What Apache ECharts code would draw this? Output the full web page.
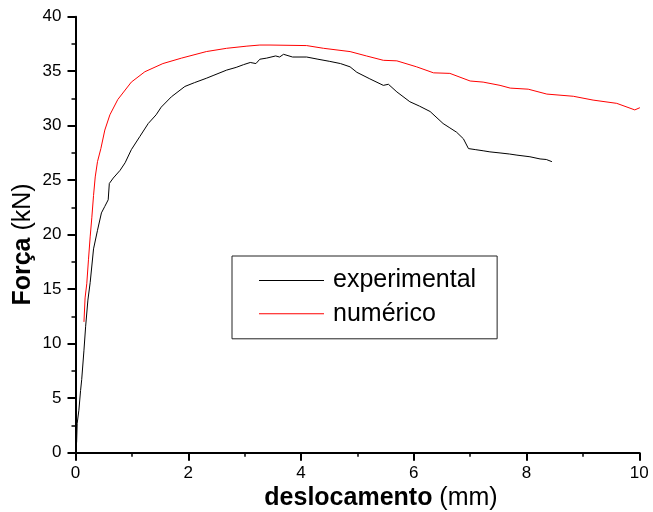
<!DOCTYPE html>
<html>
<head>
<meta charset="utf-8">
<script src="https://cdn.jsdelivr.net/npm/echarts@6/dist/echarts.min.js"></script>
<style>
  html, body { margin: 0; padding: 0; background: #fff; }
  #chart { width: 653px; height: 512px; }
</style>
</head>
<body>
<div id="chart"></div>
<script>
// Force–displacement curves: test measurement vs. numerical model
const seriesNames = ['experimental', 'numérico'];

// experimental curve: [deslocamento (mm), força (kN)]
const experimental = [
  [0.00, 0.0], [0.01, 0.1], [0.02, 1.0], [0.03, 2.7], [0.06, 3.9], [0.09, 5.7],
  [0.11, 6.7], [0.15, 9.4], [0.18, 11.6], [0.22, 14.0], [0.26, 15.6],
  [0.32, 18.7], [0.39, 20.4], [0.46, 22.0], [0.52, 22.6], [0.58, 23.2],
  [0.60, 24.7], [0.67, 25.2], [0.79, 25.9], [0.88, 26.6], [0.99, 27.8],
  [1.14, 29.0], [1.29, 30.2], [1.43, 31.0], [1.52, 31.7], [1.70, 32.65],
  [1.94, 33.6], [2.11, 33.95], [2.32, 34.35], [2.44, 34.6], [2.68, 35.1],
  [2.85, 35.35], [2.98, 35.6], [3.10, 35.8], [3.20, 35.7], [3.27, 36.1],
  [3.39, 36.2], [3.55, 36.4], [3.62, 36.3], [3.69, 36.55], [3.85, 36.3],
  [4.10, 36.3], [4.30, 36.1], [4.51, 35.9], [4.70, 35.7], [4.87, 35.4],
  [4.99, 34.9], [5.22, 34.3], [5.46, 33.7], [5.55, 33.8], [5.70, 33.1],
  [5.93, 32.2], [6.10, 31.8], [6.29, 31.3], [6.52, 30.2], [6.64, 29.8],
  [6.76, 29.4], [6.88, 28.8], [6.97, 27.9], [7.10, 27.8], [7.23, 27.7],
  [7.35, 27.6], [7.53, 27.5], [7.70, 27.4], [7.83, 27.3], [8.06, 27.15],
  [8.24, 26.95], [8.35, 26.9], [8.45, 26.7]
];

// numerical model curve: [deslocamento (mm), força (kN)]
const numerico = [
  [0.15, 12.0], [0.17, 14.2], [0.20, 15.5], [0.23, 17.7], [0.26, 19.8],
  [0.29, 21.6], [0.32, 23.6], [0.35, 25.3], [0.39, 26.7], [0.45, 27.9],
  [0.52, 29.6], [0.61, 31.0], [0.75, 32.4], [0.99, 34.0], [1.23, 34.95],
  [1.55, 35.7], [1.88, 36.2], [2.32, 36.8], [2.68, 37.1], [3.04, 37.3],
  [3.27, 37.4], [3.45, 37.4], [4.10, 37.35], [4.40, 37.1], [4.87, 36.8],
  [5.16, 36.4], [5.46, 36.0], [5.70, 35.95], [6.05, 35.4], [6.35, 34.85],
  [6.64, 34.8], [7.00, 34.1], [7.23, 34.0], [7.53, 33.7], [7.71, 33.45],
  [8.03, 33.35], [8.36, 32.9], [8.83, 32.7], [9.18, 32.35], [9.60, 32.05],
  [9.92, 31.45], [10.01, 31.65]
];

// axis ranges: major tick step and minor tick step
const xTicks = { min: 0, max: 10, interval: 2, minorInterval: 1 };
const yTicks = { min: 0, max: 40, interval: 5, minorInterval: 2.5 };

const FONT = '"Liberation Sans", Arial, sans-serif';

const chart = echarts.init(document.getElementById('chart'), null, { renderer: 'canvas' });

// main axis: line, long ticks, labels
function majorAxis(t, position, labelMargin) {
  return {
    type: 'value', position: position,
    min: t.min, max: t.max, interval: t.interval,
    axisLine: { show: true, onZero: false, lineStyle: { color: '#000', width: 2 } },
    axisTick: { show: true, inside: false, length: 8, lineStyle: { color: '#000', width: 2 } },
    splitLine: { show: false },
    axisLabel: { color: '#000', fontFamily: FONT, fontSize: 17, margin: labelMargin },
    z: 3
  };
}
// companion axis on the same side carrying only the short intermediate ticks
function minorAxis(t, position) {
  return {
    type: 'value', position: position, offset: 0,
    min: t.min, max: t.max, interval: t.minorInterval,
    axisLine: { show: false, onZero: false },
    axisTick: { show: true, inside: false, length: 4, lineStyle: { color: '#000', width: 1.5 } },
    splitLine: { show: false },
    axisLabel: { show: false },
    z: 2
  };
}

const titleRich = {
  b: { fontFamily: FONT, fontSize: 25, fontWeight: 'bold', fill: '#000' },
  n: { fontFamily: FONT, fontSize: 25, fill: '#000' }
};

chart.setOption({
  animation: false,
  backgroundColor: '#fff',
  grid: { left: 75.5, right: 13.7, top: 16.7, bottom: 59.3, containLabel: false },
  xAxis: [majorAxis(xTicks, 'bottom', 12), minorAxis(xTicks, 'bottom')],
  yAxis: [majorAxis(yTicks, 'left', 14), minorAxis(yTicks, 'left')],
  legend: {
    data: seriesNames,
    orient: 'vertical',
    left: 232, top: 256,
    padding: [12, 21, 12.5, 27],
    icon: 'rect',
    itemWidth: 65, itemHeight: 1, itemGap: 8.3,
    borderColor: '#222', borderWidth: 1,
    textStyle: { color: '#000', fontFamily: FONT, fontSize: 25, lineHeight: 25, padding: [0, 0, 0, 4] }
  },
  graphic: [
    {
      type: 'text',
      x: 381, y: 498,
      style: {
        text: '{b|deslocamento}{n| (mm)}',
        align: 'center', verticalAlign: 'middle',
        rich: titleRich
      }
    },
    {
      type: 'text',
      x: 23, y: 244.5,
      rotation: Math.PI / 2,
      style: {
        text: '{b|Força}{n| (kN)}',
        align: 'center', verticalAlign: 'middle',
        rich: titleRich
      }
    }
  ],
  series: [
    {
      name: seriesNames[1], type: 'line', data: numerico,
      xAxisIndex: 0, yAxisIndex: 0,
      symbol: 'none', smooth: false, z: 2,
      lineStyle: { color: '#ff0000', width: 1 }, itemStyle: { color: '#ff0000' }
    },
    {
      name: seriesNames[0], type: 'line', data: experimental,
      xAxisIndex: 0, yAxisIndex: 0,
      symbol: 'none', smooth: false, z: 3,
      lineStyle: { color: '#000', width: 1 }, itemStyle: { color: '#000' }
    }
  ]
});
</script>
</body>
</html>
